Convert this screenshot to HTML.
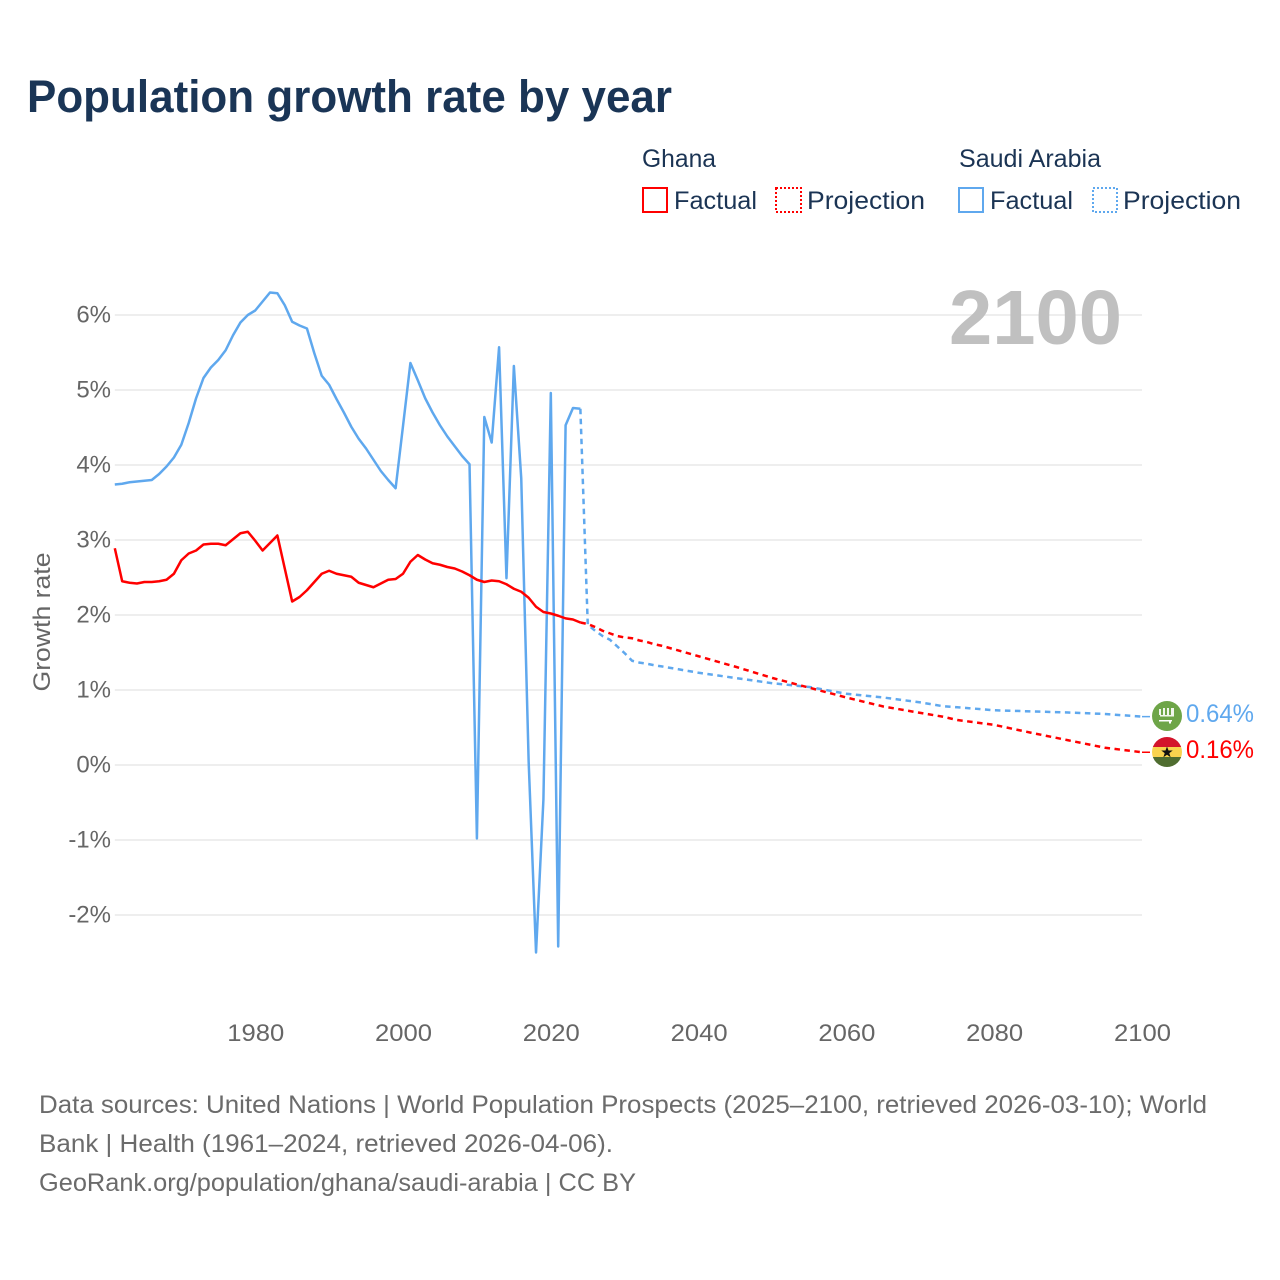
<!DOCTYPE html>
<html lang="en">
<head>
<meta charset="utf-8">
<title>Population growth rate by year</title>
<style>
html,body{margin:0;padding:0;background:#fff;width:1280px;height:1280px;overflow:hidden}
svg{display:block;font-family:"Liberation Sans",sans-serif}
</style>
</head>
<body>
<svg id="chart" xmlns="http://www.w3.org/2000/svg" width="1280" height="1280" viewBox="0 0 1280 1280">
  <rect x="0" y="0" width="1280" height="1280" fill="#fff"/>
  <text x="27" y="112" font-size="45" font-weight="700" fill="#1a3556" textLength="645" lengthAdjust="spacingAndGlyphs">Population growth rate by year</text>

  <g font-size="25" fill="#1b3454">
    <text x="642" y="167" textLength="74" lengthAdjust="spacingAndGlyphs">Ghana</text>
    <rect x="643" y="188" width="24" height="24" fill="none" stroke="#ff0000" stroke-width="2"/>
    <text x="674" y="209" textLength="83" lengthAdjust="spacingAndGlyphs">Factual</text>
    <rect x="776" y="188" width="25" height="24" fill="none" stroke="#ff0000" stroke-width="2" stroke-dasharray="2 2"/>
    <text x="807" y="209" textLength="118" lengthAdjust="spacingAndGlyphs">Projection</text>
    <text x="959" y="167" textLength="142" lengthAdjust="spacingAndGlyphs">Saudi Arabia</text>
    <rect x="959" y="188" width="24" height="24" fill="none" stroke="#5fa8ee" stroke-width="2"/>
    <text x="990" y="209" textLength="83" lengthAdjust="spacingAndGlyphs">Factual</text>
    <rect x="1093" y="188" width="24" height="24" fill="none" stroke="#5fa8ee" stroke-width="2" stroke-dasharray="2 2"/>
    <text x="1123" y="209" textLength="118" lengthAdjust="spacingAndGlyphs">Projection</text>
  </g>

  <g id="grid"></g>
  <text x="949" y="344" font-size="77" font-weight="700" fill="#c0c0c0" textLength="173" lengthAdjust="spacingAndGlyphs">2100</text>
  <g id="yticks" font-size="24" fill="#666" text-anchor="end"></g>
  <g id="xticks" font-size="24" fill="#666" text-anchor="middle"></g>
  <text transform="translate(50 622) rotate(-90)" font-size="24" fill="#666" text-anchor="middle" textLength="139" lengthAdjust="spacingAndGlyphs">Growth rate</text>
  <g id="series"></g>

  <defs>
    <clipPath id="flag-clip-ghana"><circle cx="1167" cy="752" r="15"/></clipPath>
  </defs>
  <g>
    <circle cx="1167" cy="716" r="15" fill="#6ea548"/>
    <path d="M1159 709h2v6h-2zM1163 708h2v7h-2zM1167 708h2v7h-2zM1171 708h3v7h-3zM1160 715h14v1.500h-14z" fill="#fff" opacity="0.9"/>
    <path d="M1159 720h13v1.500h-1v2h-2v-2h-10z" fill="#fff"/>
  </g>
  <g clip-path="url(#flag-clip-ghana)">
    <rect x="1152" y="737" width="30" height="10" fill="#d3142b"/>
    <rect x="1152" y="747" width="30" height="10" fill="#f8d34e"/>
    <rect x="1152" y="757" width="30" height="10" fill="#4f6d30"/>
    <path d="M1167 746.500l1.500 4h4.200l-3.400 2.600 1.300 4.200-3.600-2.500-3.600 2.500 1.300-4.200-3.400-2.600h4.200z" fill="#111"/>
  </g>
  <text x="1186" y="722" font-size="25" fill="#5fa8ee" textLength="68" lengthAdjust="spacingAndGlyphs">0.64%</text>
  <text x="1186" y="758" font-size="25" fill="#ff0000" textLength="68" lengthAdjust="spacingAndGlyphs">0.16%</text>

  <g font-size="25" fill="#6b6b6b">
    <text x="39" y="1113" textLength="1168" lengthAdjust="spacingAndGlyphs">Data sources: United Nations | World Population Prospects (2025–2100, retrieved 2026-03-10); World</text>
    <text x="39" y="1152" textLength="574" lengthAdjust="spacingAndGlyphs">Bank | Health (1961–2024, retrieved 2026-04-06).</text>
    <text x="39" y="1191" textLength="597" lengthAdjust="spacingAndGlyphs">GeoRank.org/population/ghana/saudi-arabia | CC BY</text>
  </g>
</svg>
<script>
const yTickValues = [-2, -1, 0, 1, 2, 3, 4, 5, 6];
const xTickYears = [1980, 2000, 2020, 2040, 2060, 2080, 2100];
const factualStartYear = 1961;
const ghanaFactual = [2.89,2.45,2.43,2.42,2.44,2.44,2.45,2.47,2.55,2.73,2.82,2.86,2.94,2.95,2.95,2.93,3.01,3.09,3.11,2.99,2.86,2.96,3.06,2.62,2.18,2.24,2.33,2.44,2.55,2.59,2.55,2.53,2.51,2.43,2.40,2.37,2.42,2.47,2.48,2.55,2.71,2.80,2.74,2.69,2.67,2.64,2.62,2.58,2.53,2.47,2.44,2.46,2.45,2.41,2.35,2.31,2.23,2.11,2.04,2.02,1.99,1.955,1.94,1.90];
const saudiFactual = [3.74,3.75,3.77,3.78,3.79,3.80,3.88,3.98,4.10,4.27,4.56,4.89,5.16,5.30,5.40,5.53,5.73,5.90,6.00,6.06,6.18,6.30,6.29,6.13,5.91,5.86,5.82,5.49,5.19,5.07,4.88,4.70,4.51,4.35,4.22,4.07,3.92,3.80,3.69,4.52,5.36,5.13,4.89,4.70,4.53,4.38,4.25,4.12,4.01,-0.98,4.64,4.30,5.57,2.49,5.32,3.82,0.05,-2.50,-0.46,4.96,-2.42,4.53,4.76,4.75];
const projectionYears = [2024,2025,2026,2027,2028,2029,2030,2031,2032,2033,2034,2035,2040,2045,2050,2055,2060,2065,2070,2073,2075,2080,2085,2090,2095,2100];
const ghanaProjection = [1.90,1.88,1.84,1.79,1.755,1.72,1.70,1.69,1.66,1.64,1.61,1.59,1.45,1.31,1.16,1.03,0.90,0.78,0.695,0.645,0.60,0.535,0.43,0.33,0.23,0.17];
const saudiProjection = [4.75,1.87,1.79,1.72,1.67,1.58,1.49,1.39,1.365,1.35,1.33,1.315,1.23,1.16,1.09,1.04,0.95,0.90,0.835,0.785,0.77,0.73,0.715,0.70,0.68,0.645];

const NS = 'http://www.w3.org/2000/svg';
const xScale = function (year) { return 114.8 + (year - 1961) * (1142 - 114.8) / 139; };
const yScale = function (value) { return 765 - value * 75; };
const grid = document.getElementById('grid');
const yticks = document.getElementById('yticks');
const xticks = document.getElementById('xticks');
const series = document.getElementById('series');

yTickValues.forEach(function (v) {
  const line = document.createElementNS(NS, 'line');
  
  
  line.setAttribute('x1', xScale(1961));
  line.setAttribute('x2', xScale(2100));
  line.setAttribute('y1', yScale(v));
  line.setAttribute('y2', yScale(v));
  line.setAttribute('stroke', '#eeeeee');
  line.setAttribute('stroke-width', '2');
  grid.appendChild(line);
  const label = document.createElementNS(NS, 'text');
  
  
  label.setAttribute('x', 111);
  label.setAttribute('y', yScale(v) + 7.5);
  label.textContent = v + '%';
  yticks.appendChild(label);
});

xTickYears.forEach(function (year) {
  const label = document.createElementNS(NS, 'text');
  
  
  label.setAttribute('x', xScale(year) + 0.5);
  label.setAttribute('y', 1041);
  label.setAttribute('textLength', 57);
  label.setAttribute('lengthAdjust', 'spacingAndGlyphs');
  label.textContent = year;
  xticks.appendChild(label);
});

function pointsFrom(years, values) {
  return values.map(function (v, i) {
    return xScale(years[i]).toFixed(2) + ',' + yScale(v).toFixed(2);
  }).join(' ');
}
const factualYears = ghanaFactual.map(function (_, i) { return factualStartYear + i; });

function addLine(name, points, color, dash) {
  const p = document.createElementNS(NS, 'polyline');
  
  
  p.setAttribute('points', points);
  p.setAttribute('fill', 'none');
  p.setAttribute('stroke', color);
  p.setAttribute('stroke-width', '2.5');
  p.setAttribute('stroke-linejoin', 'round');
  if (dash) p.setAttribute('stroke-dasharray', dash);
  series.appendChild(p);
}
addLine('saudi-arabia-factual-line', pointsFrom(factualYears, saudiFactual), '#5fa8ee');
addLine('saudi-arabia-projection-line', pointsFrom(projectionYears, saudiProjection), '#5fa8ee', '5.5 4.5');
addLine('ghana-factual-line', pointsFrom(factualYears, ghanaFactual), '#ff0000');
addLine('ghana-projection-line', pointsFrom(projectionYears, ghanaProjection), '#ff0000', '5.5 4.5');

function addConnector(name, value, color) {
  const c = document.createElementNS(NS, 'line');
  
  
  c.setAttribute('x1', xScale(2100));
  c.setAttribute('x2', 1150);
  c.setAttribute('y1', yScale(value));
  c.setAttribute('y2', yScale(value));
  c.setAttribute('stroke', color);
  c.setAttribute('stroke-width', '1.5');
  series.appendChild(c);
}
addConnector('saudi-arabia-end-connector', saudiProjection[saudiProjection.length - 1], '#5fa8ee');
addConnector('ghana-end-connector', ghanaProjection[ghanaProjection.length - 1], '#ff0000');
</script>
</body>
</html>
